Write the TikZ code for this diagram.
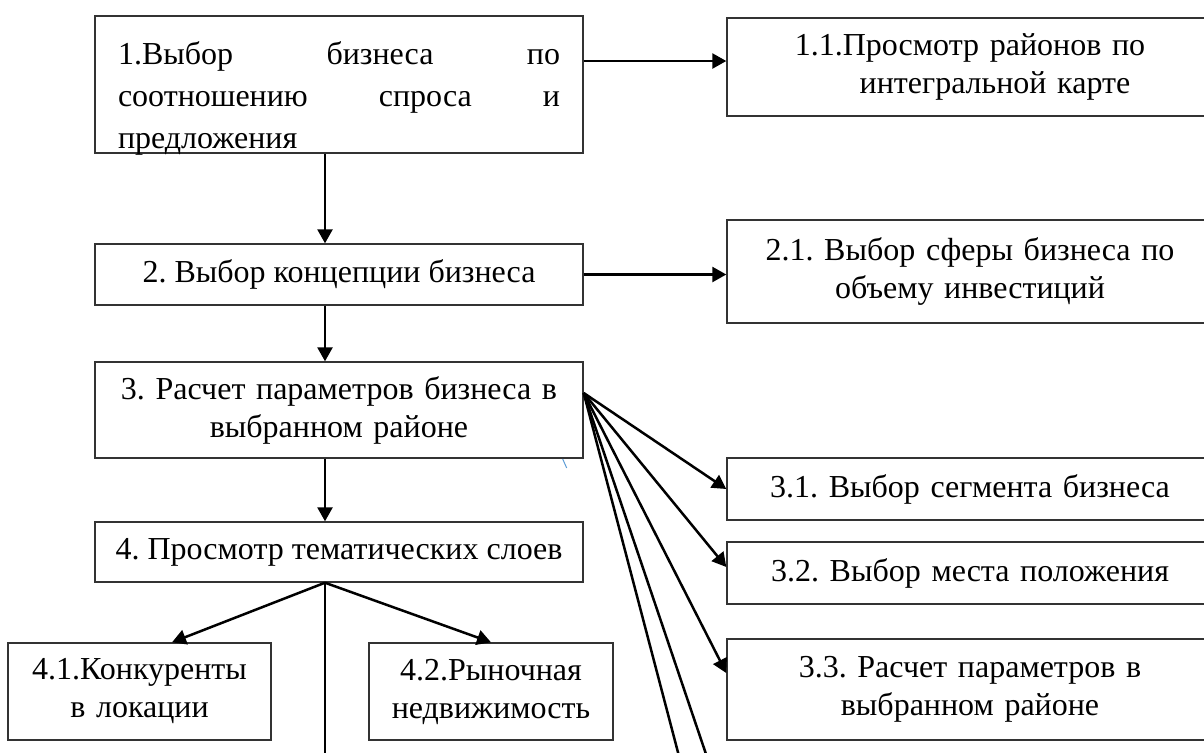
\documentclass[tikz,border=0pt]{standalone}
\usepackage{fontspec}
\setmainfont{Liberation Serif}
\usetikzlibrary{arrows.meta, calc}
\definecolor{tickblue}{HTML}{5B9BD5}
\frenchspacing

\begin{document}
\begin{tikzpicture}[x=0.5pt, y=-0.5pt,
        every node/.style={font=\fontsize{16pt}{19pt}\selectfont},
        box/.style={draw=black!80, line width=0.7pt, rectangle, inner sep=0pt, align=center},
        leftbox/.style={box, minimum width=244pt},
        rightbox/.style={box, minimum width=243pt, text width=232pt},
        arr/.style={line width=1.25pt, -{Triangle[length=7pt, width=7.5pt]}},
        ln/.style={line width=1.25pt}]

        \clip (0,0) rectangle (1204,752);

        % main column
        \node[leftbox, text width=221pt, align=left, text height=24pt, text depth=44.5pt,
              font=\fontsize{16pt}{21pt}\selectfont] (b1) at (339,84.5)
              {1.Выбор\hfill бизнеса\hfill по\\ соотношению\hfill спроса\hfill и\\ предложения};
        \node[leftbox, minimum height=30.5pt] (b2) at (339,274.5) {2. Выбор концепции бизнеса};
        \node[leftbox, minimum height=48pt, text width=234pt] (b3) at (339,410)
              {3. Расчет параметров бизнеса в\\ выбранном районе};
        \node[leftbox, minimum height=30pt] (b4) at (339,552) {4. Просмотр тематических слоев};

        % right column
        \node[rightbox, minimum height=49pt] (b11) at (970,67)
              {1.1.Просмотр районов по\\ \hspace*{25pt}интегральной карте};
        \node[rightbox, minimum height=51.5pt] (b21) at (970,271.5)
              {2.1. Выбор сферы бизнеса по\\ объему инвестиций};
        \node[rightbox, minimum height=31pt] (b31) at (970,489) {3.1. Выбор сегмента бизнеса};
        \node[rightbox, minimum height=31pt] (b32) at (970,573) {3.2. Выбор места положения};
        \node[rightbox, minimum height=50.5pt] (b33) at (970,689.5)
              {3.3. Расчет параметров в\\ выбранном районе};

        % layers
        \node[box, minimum width=131.5pt, minimum height=48.5pt, text width=127pt] (b41) at (139.5,691.5)
              {4.1.Конкуренты\\ в локации};
        \node[box, minimum width=122pt, minimum height=48.5pt, text width=119pt] (b42) at (491,691.5)
              {4.2.Рыночная\\ недвижимость};

        \coordinate (axis) at (325,0);
        \coordinate (f3) at ([yshift=8.5pt]b3.east);
        \coordinate (f4) at (b4.south -| axis);
        \coordinate (cut0) at (325,760);
        \coordinate (cut1) at (680,760);
        \coordinate (cut2) at (708,760);

        % down the column
        \draw[arr] (b1.south -| axis) -- (b2.north -| axis);
        \draw[arr] (b2.south -| axis) -- (b3.north -| axis);
        \draw[arr] (b3.south -| axis) -- (b4.north -| axis);

        % to the right
        \draw[arr] ([yshift=11.75pt]b1.east) coordinate (p1) -- (p1 -| b11.west);
        \draw[arr] (b2.east) -- (b2.east -| b21.west);

        \draw[arr] (f3) -- (b31.west);
        \draw[arr] (f3) -- ([yshift=3pt]b32.west);
        \draw[arr] (f3) -- ([yshift=8.25pt]b33.west);
        \draw[ln] (f3) -- (cut1);
        \draw[ln] (f3) -- (cut2);

        \draw[arr] (f4) -- ([xshift=16.25pt]b41.north);
        \draw[arr] (f4) -- (b42.north);
        \draw[ln] (f4) -- (cut0);

        \draw[tickblue, line width=0.5pt] (562.7,459) -- (566.7,468);

\end{tikzpicture}
\end{document}
